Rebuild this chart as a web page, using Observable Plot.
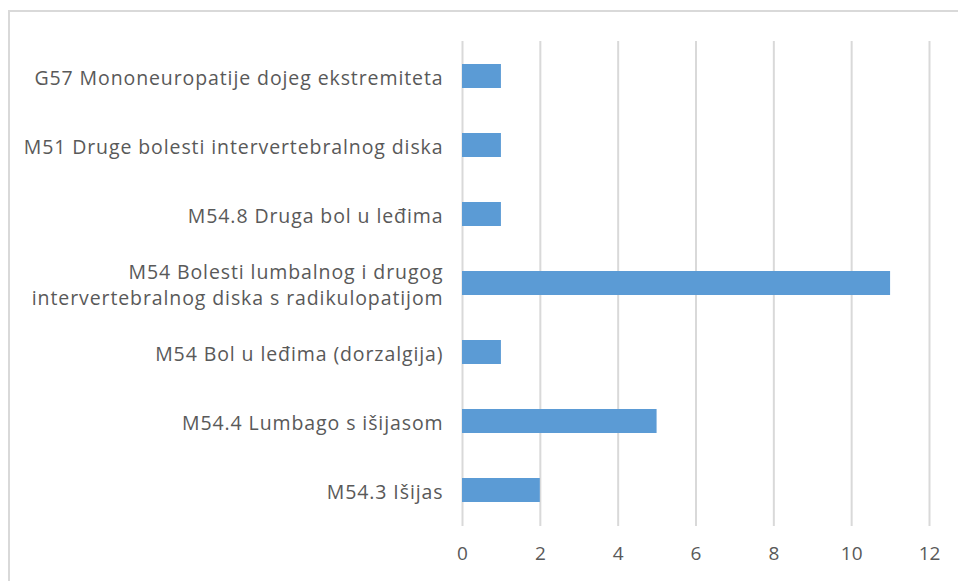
<!DOCTYPE html>
<html>
<head>
<meta charset="utf-8">
<script src="https://cdn.jsdelivr.net/npm/d3@7"></script>
<script src="https://cdn.jsdelivr.net/npm/@observablehq/plot@0.6"></script>
<style>
  html, body { margin: 0; padding: 0; background: #fff; }
  #wrap { position: relative; width: 958px; height: 581px; overflow: hidden; }
  #frame { position: absolute; left: 8px; top: 10px; width: 1000px; height: 700px; border-left: 2px solid #d9d9d9; border-top: 2px solid #d9d9d9; }
  #chart { position: absolute; left: 0; top: 0; }
  .ylab text { letter-spacing: 0.9px; }
</style>
</head>
<body>
<div id="wrap"><div id="frame"></div><div id="chart"></div></div>
<script>
const categories = [
  "G57 Mononeuropatije dojeg ekstremiteta",
  "M51 Druge bolesti intervertebralnog diska",
  "M54.8 Druga bol u leđima",
  "M54 Bolesti lumbalnog i drugog\nintervertebralnog diska s radikulopatijom",
  "M54 Bol u leđima (dorzalgija)",
  "M54.4 Lumbago s išijasom",
  "M54.3 Išijas"
];
const values = [1, 1, 1, 11, 1, 5, 2];
const xTicks = [0, 2, 4, 6, 8, 10, 12];

const data = categories.map((c, i) => ({category: c, value: values[i]}));

const chart = Plot.plot({
  width: 958,
  height: 581,
  marginLeft: 462,
  marginRight: 29,
  marginTop: 41,
  marginBottom: 55,
  style: {fontFamily: "'Open Sans', sans-serif", fontSize: "18px", color: "#595959", background: "transparent"},
  x: {domain: [0, 12], ticks: xTicks},
  y: {domain: categories, paddingInner: 0.65, paddingOuter: 0.325},
  marks: [
    Plot.gridX(xTicks, {stroke: "#d9d9d9", strokeOpacity: 1, strokeWidth: 2}),
    Plot.barX(data, {x: "value", y: "category", fill: "#5b9bd5"}),
    Plot.axisX({ticks: xTicks, tickSize: 0, tickPadding: 20, label: null, fill: "#595959", fontSize: 19}),
    Plot.axisY({tickSize: 0, tickPadding: 19, label: null, fill: "#595959", fontSize: 19.5, lineHeight: 1.35, className: "ylab"})
  ]
});
document.getElementById("chart").appendChild(chart);
</script>
</body>
</html>
